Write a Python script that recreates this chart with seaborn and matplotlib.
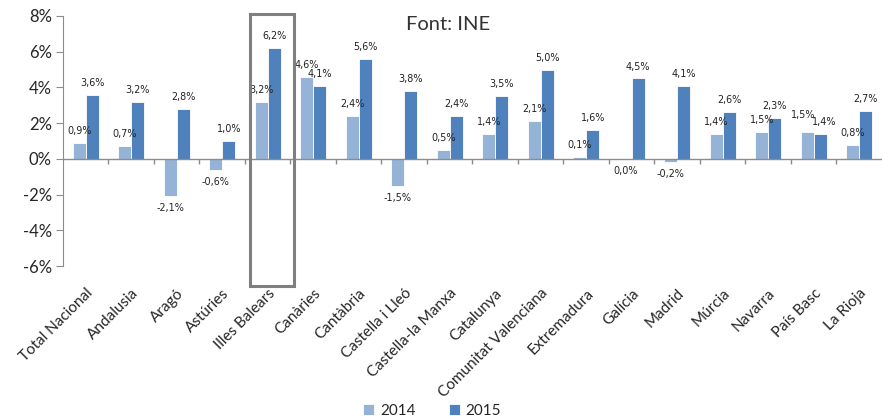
import pandas as pd
import seaborn as sns
import matplotlib.pyplot as plt
from matplotlib.patches import Rectangle

# dades (% variació)
comunitats = ["Total Nacional", "Andalusia", "Aragó", "Astúries", "Illes Balears",
              "Canàries", "Cantàbria", "Castella i Lleó", "Castella-la Manxa",
              "Catalunya", "Comunitat Valenciana", "Extremadura", "Galícia",
              "Madrid", "Múrcia", "Navarra", "País Basc", "La Rioja"]
v2014 = [0.9, 0.7, -2.1, -0.6, 3.2, 4.6, 2.4, -1.5, 0.5, 1.4, 2.1, 0.1, -0.03,
         -0.2, 1.4, 1.5, 1.5, 0.8]
v2015 = [3.6, 3.2, 2.8, 1.0, 6.2, 4.1, 5.6, 3.8, 2.4, 3.5, 5.0, 1.6, 4.5,
         4.1, 2.6, 2.3, 1.4, 2.7]
anys = ["2014", "2015"]
yticks = [-6, -4, -2, 0, 2, 4, 6, 8]

df = pd.DataFrame({
    "comunitat": comunitats * 2,
    "any": [anys[0]] * len(comunitats) + [anys[1]] * len(comunitats),
    "valor": v2014 + v2015,
})

sns.set_style("white")
plt.rcParams["font.family"] = ["Lato", "DejaVu Sans"]

fig = plt.figure(figsize=(8.82, 4.19), dpi=100)
ax = fig.add_axes([0.0714, 0.365, 0.9286, 0.597])

sns.barplot(data=df, x="comunitat", y="valor", hue="any", order=comunitats,
            palette=["#95B3D7", "#4F81BD"], saturation=1, width=0.57,
            edgecolor="white", linewidth=0.6, ax=ax, legend=True)

# etiquetes de dades
etiq = []
for cont, vals in zip(ax.containers, [v2014, v2015]):
    labs = [f"{round(v, 1) + 0.0:.1f}".replace(".", ",") + "%" for v in vals]
    etiq.append(ax.bar_label(cont, labels=labs, padding=5, fontsize=6.9,
                             family="DejaVu Sans", color="#222222"))

# les etiquetes del País Basc es toquen: una mica més amunt la del 2014
pb = comunitats.index("País Basc")
etiq[0][pb].xyann = (-3, etiq[0][pb].xyann[1] + 4)
etiq[1][pb].xyann = (3, etiq[1][pb].xyann[1])

ax.set_ylim(-6, 8)
ax.set_xlim(-0.5, len(comunitats) - 0.5)
ax.set_yticks(yticks)
ax.set_yticklabels([f"{t}%" for t in yticks], fontsize=12)
ax.set_xlabel("")
ax.set_ylabel("")

for s in ["top", "right", "bottom"]:
    ax.spines[s].set_visible(False)
ax.spines["left"].set_color("#8c8c8c")
ax.tick_params(axis="y", left=True, length=5, color="#8c8c8c", pad=3)
ax.tick_params(axis="x", bottom=False, pad=11)

# eix del zero amb marques entre categories
ax.axhline(0, color="#8c8c8c", lw=1, zorder=3)
ax.vlines([i + 0.5 for i in range(len(comunitats) - 1)], -0.3, 0,
          color="#8c8c8c", lw=1)

plt.setp(ax.get_xticklabels(), rotation=45, ha="right",
         rotation_mode="anchor", fontsize=11)

# requadre Illes Balears
ib = comunitats.index("Illes Balears")
ax.add_patch(Rectangle((ib - 0.39, -7.1), 0.96, 15.2, fill=False,
                       edgecolor="#7f7f7f", lw=2.2, clip_on=False, zorder=5))

ax.text(0.47, 0.965, "Font: INE", transform=ax.transAxes, ha="center",
        va="center", fontsize=14.5, color="#333333")

h, l = ax.get_legend_handles_labels()
ax.get_legend().remove()
fig.legend(h, l, loc="lower center", bbox_to_anchor=(0.49, -0.03), ncol=2,
           frameon=False, fontsize=11, handlelength=0.7, handleheight=0.7,
           handletextpad=0.4, columnspacing=2.2)

fig.savefig("out.png", dpi=100)
